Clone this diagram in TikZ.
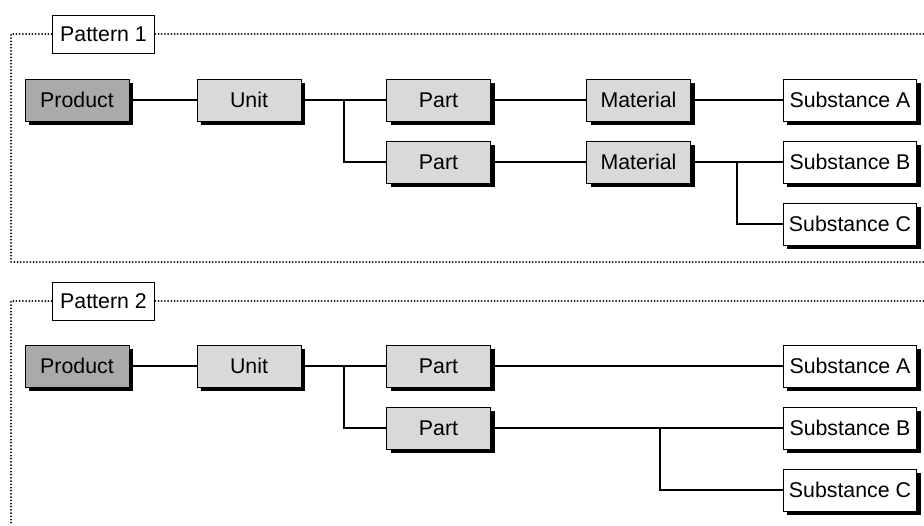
\documentclass[tikz,border=0pt]{standalone}
\usepackage{fontspec}
\setmainfont{Liberation Sans}
\usetikzlibrary{shadows,calc}

\tikzset{
  box/.style={draw=black, line width=0.75pt, minimum width=78pt, minimum height=31.5pt, inner sep=2pt,
    font=\fontsize{16}{18}\selectfont,
    drop shadow={shadow xshift=3pt, shadow yshift=-3pt, opacity=1, fill=black}},
  prodbox/.style={box, fill={rgb,255:red,170;green,170;blue,170}},
  itembox/.style={box, fill={rgb,255:red,217;green,217;blue,217}},
  subbox/.style={box, fill=white, minimum width=100pt},
  tagbox/.style={draw=black, line width=0.75pt, fill=white, minimum width=77pt, minimum height=28.5pt, inner sep=2pt,
    font=\fontsize{16}{18}\selectfont},
  frame/.style={line width=1.5pt, line cap=round, dash pattern=on 0pt off 2.4pt},
  link/.style={line width=1.5pt}
}

\begin{document}
\begin{tikzpicture}[x=0.75pt,y=0.75pt,yscale=-1]
\useasboundingbox (0,0) rectangle (924,525);

%Pattern 1
\node[tagbox] (tag1) at (103.5,34) {Pattern 1};
\draw[frame] (tag1.west) -- (11,34) -- (11,262) -- (924,262);
\draw[frame] (tag1.east) -- (924,34);

\node[prodbox] (prod1) at (77,100) {Product};
\node[itembox] (unit1) at (249,100) {Unit};
\node[itembox] (part1a) at (438.5,100) {Part};
\node[itembox] (part1b) at (438.5,162) {Part};
\node[itembox] (mat1a) at (638.5,100) {Material};
\node[itembox] (mat1b) at (638.5,162) {Material};
\node[subbox] (sub1a) at (850,100) {Substance A};
\node[subbox] (sub1b) at (850,162) {Substance B};
\node[subbox] (sub1c) at (850,224) {Substance C};

\draw[link] (prod1) -- (unit1);
\draw[link] (unit1) -- (part1a);
\draw[link] (part1b.west) -| ($(unit1.east)!0.5!(part1a.west)$);
\draw[link] (part1a) -- (mat1a);
\draw[link] (part1b) -- (mat1b);
\draw[link] (mat1a) -- (sub1a);
\draw[link] (mat1b) -- (sub1b);
\draw[link] (sub1c.west) -| ($(mat1b.east)!0.5!(sub1b.west)$);

%Pattern 2
\node[tagbox] (tag2) at (103.5,301) {Pattern 2};
\draw[frame] (tag2.west) -- (11,301) -- (11,525);
\draw[frame] (tag2.east) -- (924,301);

\node[prodbox] (prod2) at (77,366) {Product};
\node[itembox] (unit2) at (249,366) {Unit};
\node[itembox] (part2a) at (438.5,366) {Part};
\node[itembox] (part2b) at (438.5,428) {Part};
\node[subbox] (sub2a) at (850,366) {Substance A};
\node[subbox] (sub2b) at (850,428) {Substance B};
\node[subbox] (sub2c) at (850,490) {Substance C};

\draw[link] (prod2) -- (unit2);
\draw[link] (unit2) -- (part2a);
\draw[link] (part2b.west) -| ($(unit2.east)!0.5!(part2a.west)$);
\draw[link] (part2a) -- (sub2a);
\draw[link] (part2b) -- (sub2b);
\draw[link] (sub2c.west) -| ($(part2b.east)!0.58!(sub2b.west)$);

\end{tikzpicture}
\end{document}
